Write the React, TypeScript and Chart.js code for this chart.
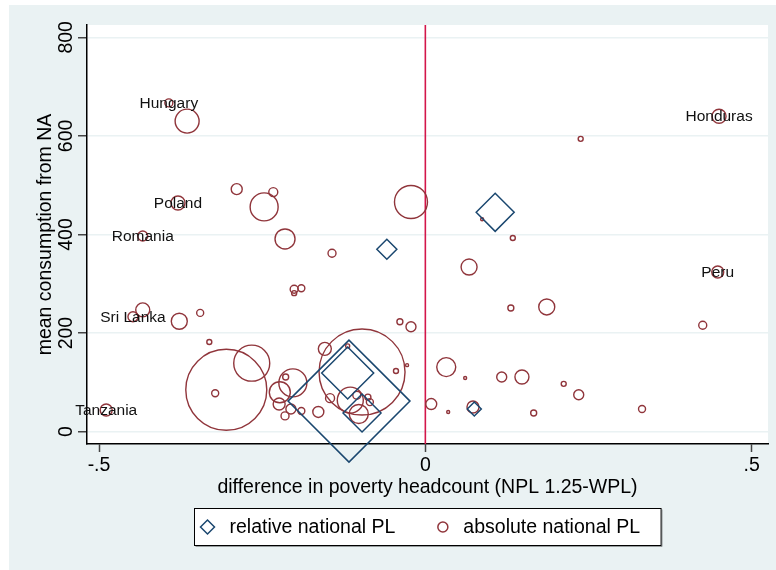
import React, { useEffect, useRef } from 'react';
import { Chart, registerables } from 'chart.js';

Chart.register(...registerables);

// relative national PL (diamonds)
const relX = [-0.059, 0.107, -0.117, -0.119, -0.097, 0.075];
const relY = [370, 445, 62, 119, 38, 46];
const relSize = [10, 19, 61, 26, 19, 7];

// absolute national PL (circles)
const absX = [
  -0.393, -0.365, -0.289, -0.233, -0.247, -0.379, -0.433, -0.215, -0.143, -0.201,
  -0.190, -0.201, 0.450, 0.238, -0.022, 0.087, 0.134, 0.067, 0.448, -0.433,
  -0.448, -0.377, -0.345, -0.331, -0.305, -0.266, -0.322, -0.489, -0.154, -0.097,
  -0.223, -0.203, -0.214, -0.224, -0.206, -0.215, -0.190, -0.164, -0.146, -0.115,
  -0.105, -0.102, -0.088, -0.085, -0.045, -0.028, -0.119, -0.039, -0.022, 0.131,
  0.186, 0.425, 0.032, 0.061, 0.117, 0.148, 0.212, 0.235, 0.009, 0.035,
  0.166, 0.332, 0.073,
];
const absY = [
  667, 630, 492, 486, 456, 464, 397, 391, 362, 289,
  291, 281, 640, 594, 466, 431, 393, 334, 324, 247,
  233, 224, 241, 182, 85, 139, 78, 44, 168, 121,
  80, 99, 111, 56, 46, 32, 42, 40, 68, 64,
  74, 36, 70, 60, 123, 135, 174, 223, 213, 251,
  253, 216, 131, 109, 111, 111, 97, 75, 56, 40,
  38, 46, 50,
];
const absSize = [
  4, 12, 5.5, 4.5, 14, 7, 5, 10, 4, 4,
  3.5, 2.5, 7, 2.5, 16.5, 1.5, 2.5, 8, 6, 7,
  5, 8, 3.5, 2.5, 40.5, 18, 3.5, 6, 6.5, 43,
  10.5, 14, 3, 6, 5, 4, 3.5, 5.5, 4.5, 13,
  4, 9.5, 3, 3.5, 2.5, 1.5, 2, 3, 5, 3,
  8, 4, 9.5, 1.5, 5, 7, 2.5, 5, 5.5, 1.5,
  3, 3.5, 6,
];
const absLabels = [
  'Hungary', '', '', '', '', 'Poland', 'Romania', '', '', '',
  '', '', 'Honduras', '', '', '', '', '', 'Peru', '',
  'Sri Lanka', '', '', '', '', '', '', 'Tanzania', '', '',
  '', '', '', '', '', '', '', '', '', '',
  '', '', '', '', '', '', '', '', '', '',
  '', '', '', '', '', '', '', '', '', '',
  '', '', '',
];

const yTicks = [0, 200, 400, 600, 800];
const xTicks = [-0.5, 0, 0.5];
const xTickLabels = ['-.5', '0', '.5'];
const refLineX = 0;

const NAVY = '#1a476f';
const MAROON = '#90353b';
const REFRED = '#d3164a';
const BG = '#eaf2f3';
const FONT = "'Liberation Sans', Arial, Helvetica, sans-serif";

export default function App() {
  const ref = useRef<HTMLCanvasElement | null>(null);

  useEffect(() => {
    const canvas = ref.current;
    if (!canvas) return;

    const bgPlugin = {
      id: 'bgPlugin',
      beforeDraw(chart: any) {
        const { ctx, width, height, chartArea } = chart;
        ctx.save();
        ctx.fillStyle = '#ffffff';
        ctx.fillRect(0, 0, width, height);
        ctx.fillStyle = BG;
        ctx.fillRect(9, 5, width - 9, height - 5);
        ctx.fillStyle = '#ffffff';
        ctx.fillRect(chartArea.left, chartArea.top, chartArea.right - chartArea.left, chartArea.bottom - chartArea.top);
        ctx.restore();
      },
    };

    const refLinePlugin = {
      id: 'refLine',
      beforeDatasetsDraw(chart: any) {
        const { ctx, chartArea, scales } = chart;
        const px = scales.x.getPixelForValue(refLineX);
        ctx.save();
        ctx.strokeStyle = REFRED;
        ctx.lineWidth = 1.6;
        ctx.beginPath();
        ctx.moveTo(px, chartArea.top);
        ctx.lineTo(px, chartArea.bottom);
        ctx.stroke();
        ctx.restore();
      },
    };

    const labelPlugin = {
      id: 'pointLabels',
      afterDatasetsDraw(chart: any) {
        const { ctx } = chart;
        const meta = chart.getDatasetMeta(1);
        ctx.save();
        ctx.font = `15.5px ${FONT}`;
        ctx.fillStyle = '#111';
        ctx.textAlign = 'center';
        ctx.textBaseline = 'middle';
        absLabels.forEach((lab, i) => {
          if (!lab) return;
          const el = meta.data[i];
          ctx.fillText(lab, el.x, el.y + 1);
        });
        ctx.restore();
      },
    };

    const legendPlugin = {
      id: 'boxLegend',
      afterDraw(chart: any) {
        const { ctx, chartArea } = chart;
        const ds = chart.data.datasets;
        ctx.save();
        ctx.font = `19.5px ${FONT}`;
        const w1 = ctx.measureText(ds[0].label).width;
        const w2 = ctx.measureText(ds[1].label).width;
        const total = 124 + w1 + w2;
        const cx = (chartArea.left + chartArea.right) / 2;
        const left = Math.round(cx - total / 2) + 0.5;
        const top = 508.5;
        const h = 37;
        ctx.fillStyle = '#ffffff';
        ctx.fillRect(left, top, total, h);
        ctx.strokeStyle = '#000';
        ctx.lineWidth = 1;
        ctx.strokeRect(left, top, total, h);
        ctx.strokeStyle = 'rgba(0,0,0,0.35)';
        ctx.beginPath();
        ctx.moveTo(left + total + 1, top + 1);
        ctx.lineTo(left + total + 1, top + h + 1);
        ctx.lineTo(left + 1, top + h + 1);
        ctx.stroke();
        const cy = top + h / 2;
        const s1 = left + 13;
        ctx.strokeStyle = ds[0].borderColor;
        ctx.lineWidth = 1.5;
        ctx.beginPath();
        ctx.moveTo(s1 - 7, cy);
        ctx.lineTo(s1, cy - 7);
        ctx.lineTo(s1 + 7, cy);
        ctx.lineTo(s1, cy + 7);
        ctx.closePath();
        ctx.stroke();
        ctx.fillStyle = '#000';
        ctx.textAlign = 'left';
        ctx.textBaseline = 'middle';
        const t1 = left + 35;
        ctx.fillText(ds[0].label, t1, cy + 1);
        const s2 = t1 + w1 + 47.5;
        ctx.strokeStyle = ds[1].borderColor;
        ctx.beginPath();
        ctx.arc(s2, cy, 5, 0, Math.PI * 2);
        ctx.stroke();
        ctx.fillText(ds[1].label, s2 + 20.5, cy + 1);
        ctx.restore();
      },
    };

    const font = { family: FONT, size: 19.5 };

    const chart = new Chart(canvas, {
      type: 'bubble',
      data: {
        datasets: [
          {
            label: 'relative national PL',
            data: relX.map((x, i) => ({ x, y: relY[i], r: relSize[i] })),
            pointStyle: 'rectRot',
            backgroundColor: 'rgba(0,0,0,0)',
            borderColor: NAVY,
            borderWidth: 1.5,
            clip: false,
          },
          {
            label: 'absolute national PL',
            data: absX.map((x, i) => ({ x, y: absY[i], r: absSize[i] })),
            pointStyle: 'circle',
            backgroundColor: 'rgba(0,0,0,0)',
            borderColor: MAROON,
            borderWidth: 1.4,
            clip: false,
          },
        ],
      },
      options: {
        responsive: false,
        animation: false,
        events: [],
        layout: { autoPadding: false, padding: { left: 0, top: 25, right: 8, bottom: 0 } },
        plugins: { legend: { display: false }, tooltip: { enabled: false } },
        scales: {
          x: {
            type: 'linear',
            position: 'bottom',
            min: -0.5184,
            max: 0.525,
            afterBuildTicks: (s: any) => {
              s.ticks = xTicks.map((v) => ({ value: v }));
            },
            afterFit: (s: any) => {
              s.height = 126;
            },
            ticks: {
              autoSkip: false,
              maxRotation: 0,
              minRotation: 0,
              padding: 2,
              color: '#000',
              font,
              callback: (v: any) => {
                const i = xTicks.indexOf(Number(v));
                return i >= 0 ? xTickLabels[i] : '';
              },
            },
            grid: {
              drawOnChartArea: false,
              drawTicks: true,
              tickLength: 8,
              tickColor: '#444',
              tickWidth: 1.5,
            },
            border: { display: true, color: '#000', width: 1.5 },
            title: {
              display: true,
              text: 'difference in poverty headcount (NPL 1.25-WPL)',
              color: '#000',
              font,
              padding: { top: 0, bottom: 71 },
            },
          },
          y: {
            type: 'linear',
            position: 'left',
            min: -25,
            max: 825,
            afterBuildTicks: (s: any) => {
              s.ticks = yTicks.map((v) => ({ value: v }));
            },
            afterFit: (s: any) => {
              s.width = 87;
            },
            ticks: {
              autoSkip: false,
              minRotation: 90,
              maxRotation: 90,
              crossAlign: 'center',
              padding: -4.5,
              color: '#000',
              font,
              callback: (v: any) => String(v),
            },
            grid: {
              color: BG,
              lineWidth: 1.5,
              drawTicks: true,
              tickLength: 9,
              tickColor: '#444',
              tickWidth: 1.5,
            },
            border: { display: true, color: '#000', width: 1.5 },
            title: {
              display: true,
              text: 'mean consumption from NA',
              color: '#000',
              font,
              padding: { top: 34, bottom: 0 },
            },
          },
        },
      } as any,
      plugins: [bgPlugin, refLinePlugin, labelPlugin, legendPlugin],
    });

    return () => {
      chart.destroy();
    };
  }, []);

  return (
    <div style={{ position: 'fixed', left: 0, top: 0, width: 776, height: 570 }}>
      <canvas ref={ref} width={776} height={570} style={{ display: 'block', width: 776, height: 570 }} />
    </div>
  );
}
